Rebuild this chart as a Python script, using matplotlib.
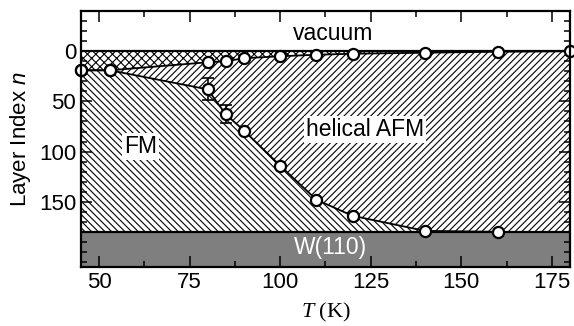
import numpy as np
from matplotlib import pyplot as plt
from matplotlib.ticker import MultipleLocator

plt.rcParams['font.family'] = 'Liberation Sans'
plt.rcParams['mathtext.fontset'] = 'custom'
plt.rcParams['mathtext.it'] = 'Liberation Sans:italic'
plt.rcParams['mathtext.cal'] = 'Liberation Serif:italic'
plt.rcParams['hatch.linewidth'] = 0.8

# surface layer boundary (top of helical AFM)
T_top = [45, 53, 80, 85, 90, 100, 110, 120, 140, 160, 180]
n_top = [19, 19, 11, 10, 7, 5, 3.5, 2.5, 1.5, 0.5, 0]

# FM / helical AFM boundary
T_low = [45, 53, 80, 85, 90, 100, 110, 120, 140, 160]
n_low = [19, 19, 38, 63, 79, 114, 148, 164, 179, 180]
T_err = [80, 85]
n_err = [38, 63]
err = [11, 9]

w_top = 180
y_min, y_max = -40, 215

fig = plt.figure(figsize=(5.74, 3.26), dpi=100)
ax = fig.add_axes([0.141, 0.181, 0.852, 0.785])

tt = np.array(T_top, dtype=float)
low_on_top = np.interp(tt, T_low, n_low)

ax.fill_between(tt, 0, n_top, facecolor='white', edgecolor='black', hatch='xxxx', linewidth=0)
ax.fill_between(tt, n_top, low_on_top, facecolor='white', edgecolor='black', hatch='/////', linewidth=0)
ax.fill_between(tt, low_on_top, w_top, facecolor='white', edgecolor='black', hatch='\\' * 5, linewidth=0)
ax.axhspan(w_top, y_max, color='#7f7f7f', zorder=1)

ax.axhline(0, color='black', lw=1.6, zorder=3)
ax.axhline(w_top, color='black', lw=1.6, zorder=3)

ax.errorbar(T_err, n_err, yerr=err, fmt='none', ecolor='black', elinewidth=1.2, capsize=4, capthick=1.2, zorder=4)
mk = dict(marker='o', ms=8, mfc='white', mec='black', mew=1.6, color='black', lw=1.3, zorder=5, clip_on=False)
ax.plot(T_top, n_top, **mk)
ax.plot(T_low, n_low, **mk)

box = dict(facecolor='white', edgecolor='none', pad=1.5)
ax.text(114.5, -18, 'vacuum', fontsize=16.5, ha='center', va='center')
ax.text(123.5, 78, 'helical AFM', fontsize=16.5, ha='center', va='center', bbox=box, zorder=6)
ax.text(61.5, 95, 'FM', fontsize=16.5, ha='center', va='center', bbox=box, zorder=6)
ax.text(114, 196, 'W(110)', fontsize=16.5, ha='center', va='center', color='white', zorder=6)

ax.set_xlim(45, 180)
ax.set_ylim(y_max, y_min)
ax.xaxis.set_major_locator(MultipleLocator(25))
ax.xaxis.set_minor_locator(MultipleLocator(12.5))
ax.yaxis.set_major_locator(MultipleLocator(50))
ax.yaxis.set_minor_locator(MultipleLocator(10))
ax.set_yticks([0, 50, 100, 150])
ax.tick_params(which='both', direction='in', top=True, right=True, labelsize=16, width=1.1)
ax.tick_params(which='major', length=8)
ax.tick_params(which='minor', length=4)
for s in ax.spines.values():
    s.set_linewidth(1.6)
    s.set_zorder(7)

ax.set_xlabel(r'$\mathcal{T}$ (K)', fontsize=16, family='Liberation Serif', labelpad=6)
ax.set_ylabel(r'Layer Index $n$', fontsize=16, labelpad=4)

fig.savefig('out.png', dpi=100)
